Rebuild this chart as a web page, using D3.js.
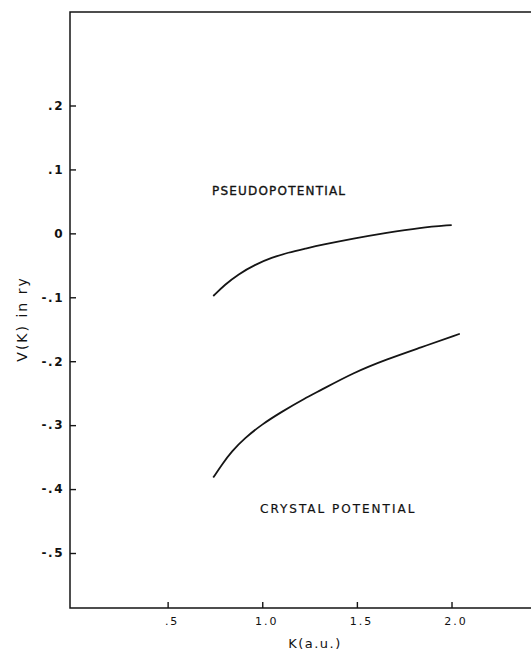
<!DOCTYPE html>
<html>
<head>
<meta charset="utf-8">
<script src="https://cdn.jsdelivr.net/npm/d3@7"></script>
<style>
  html, body { margin: 0; padding: 0; background: #fff; }
  svg { display: block; }
  .tick text { font-family: "DejaVu Sans", sans-serif; fill: #111; }
  .lbl { font-family: "DejaVu Sans", sans-serif; fill: #111; }
</style>
</head>
<body>
<svg id="chart" width="531" height="650"></svg>
<script>
/* V(K) vs K: pseudopotential and crystal potential */

const Y_TICKS = [0.2, 0.1, 0, -0.1, -0.2, -0.3, -0.4, -0.5];
const Y_LABELS = [".2", ".1", "0", "-.1", "-.2", "-.3", "-.4", "-.5"];
const X_TICKS = [0.5, 1.0, 1.5, 2.0];
const X_LABELS = [".5", "1.0", "1.5", "2.0"];

// pseudopotential curve
const pseudoK = [0.741, 0.803, 0.873, 0.961, 1.050, 1.137, 1.226, 1.314, 1.481, 1.657, 1.833, 2.001];
const pseudoV = [-0.098, -0.080, -0.064, -0.049, -0.038, -0.030, -0.024, -0.018, -0.008, 0.001, 0.009, 0.013];

// crystal potential curve
const crystalK = [0.741, 0.786, 0.838, 0.909, 0.997, 1.103, 1.226, 1.305, 1.481, 1.657, 1.833, 2.044];
const crystalV = [-0.382, -0.362, -0.341, -0.320, -0.299, -0.279, -0.258, -0.246, -0.218, -0.197, -0.179, -0.157];

const svg = d3.select("#chart");
const ink = "#151515";

const frame = { left: 70, top: 12, right: 531, bottom: 608 };

const x = d3.scaleLinear().domain([0, 2.42]).range([73, 531]);
const y = d3.scaleLinear().domain([-0.5, 0.2]).range([553, 105.5]);

// frame: left axis, top edge, bottom axis
svg.append("path")
  .attr("d", `M${frame.right},${frame.top}H${frame.left}V${frame.bottom}H${frame.right}`)
  .attr("fill", "none")
  .attr("stroke", ink)
  .attr("stroke-width", 1.5);

// y axis (ticks point inward)
const yAxis = d3.axisLeft(y)
  .tickValues(Y_TICKS)
  .tickFormat((d, i) => Y_LABELS[i])
  .tickSize(-6)
  .tickPadding(6);

svg.append("g")
  .attr("transform", `translate(${frame.left},0)`)
  .call(yAxis)
  .call(g => g.select(".domain").remove())
  .call(g => g.selectAll("line").attr("stroke", ink).attr("stroke-width", 1.4))
  .call(g => g.selectAll("text")
    .attr("font-size", 12)
    .attr("font-weight", "bold")
    .attr("letter-spacing", 1.5));

// x axis
const xAxis = d3.axisBottom(x)
  .tickValues(X_TICKS)
  .tickFormat((d, i) => X_LABELS[i])
  .tickSize(-6)
  .tickPadding(9);

svg.append("g")
  .attr("transform", `translate(0,${frame.bottom})`)
  .call(xAxis)
  .call(g => g.select(".domain").remove())
  .call(g => g.selectAll("line").attr("stroke", ink).attr("stroke-width", 1.4))
  .call(g => g.selectAll("text")
    .attr("font-size", 11)
    .attr("dx", 4)
    .attr("letter-spacing", 2));

// axis titles
svg.append("text")
  .attr("class", "lbl")
  .attr("x", 315)
  .attr("y", 648)
  .attr("text-anchor", "middle")
  .attr("font-size", 13)
  .attr("letter-spacing", 1.5)
  .text("K(a.u.)");

svg.append("text")
  .attr("class", "lbl")
  .attr("transform", "translate(27,319) rotate(-90)")
  .attr("text-anchor", "middle")
  .attr("font-size", 14)
  .attr("letter-spacing", 2)
  .text("V(K) in ry");

// curves
const line = d3.line()
  .x(d => x(d[0]))
  .y(d => y(d[1]))
  .curve(d3.curveBasis);

const series = [
  { k: pseudoK, v: pseudoV },
  { k: crystalK, v: crystalV },
];

svg.selectAll("path.curve")
  .data(series)
  .join("path")
  .attr("class", "curve")
  .attr("d", s => line(d3.zip(s.k, s.v)))
  .attr("fill", "none")
  .attr("stroke", ink)
  .attr("stroke-width", 1.8);

// curve labels
svg.append("text")
  .attr("class", "lbl")
  .attr("x", 212)
  .attr("y", 195)
  .attr("font-size", 12)
  .attr("stroke", ink)
  .attr("stroke-width", 0.35)
  .attr("letter-spacing", 1.2)
  .text("PSEUDOPOTENTIAL");

svg.append("text")
  .attr("class", "lbl")
  .attr("x", 260)
  .attr("y", 513)
  .attr("font-size", 12)
  .attr("stroke", ink)
  .attr("stroke-width", 0.2)
  .attr("letter-spacing", 2)
  .text("CRYSTAL POTENTIAL");
</script>
</body>
</html>
